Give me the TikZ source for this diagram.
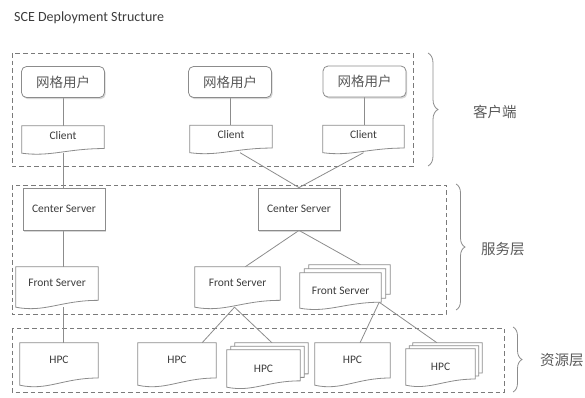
\documentclass[tikz,border=0pt]{standalone}
\usepackage{fontspec}
\setmainfont{Carlito}
\newfontfamily\cjk{Noto Sans CJK SC}
\usetikzlibrary{calc,shadows,decorations.pathreplacing}

\definecolor{edgegray}{HTML}{8C8C8C}
\definecolor{dashgray}{HTML}{7A7A7A}
\definecolor{inkgray}{HTML}{3C3C3C}
\definecolor{cjkgray}{HTML}{5A5A5A}

\pgfdeclarelayer{bg}
\pgfdeclarelayer{shapes}
\pgfsetlayers{bg,shapes,main}

\tikzset{
  wire/.style={draw=edgegray, line width=0.8pt},
  grp/.style={draw=dashgray, line width=1pt, dash pattern=on 4.5pt off 3pt},
  bracket/.style={draw=edgegray, line width=0.8pt, decorate,
    decoration={brace, amplitude=#1}},
  softshadow/.style={drop shadow={shadow xshift=1.2pt, shadow yshift=-1.6pt,
    fill=black!35, opacity=0.45}},
  userbox/.style={draw=edgegray, line width=0.8pt, fill=white, rounded corners=5pt,
    minimum width=83pt, minimum height=31pt, inner sep=0pt, softshadow,
    text=cjkgray, font=\cjk\fontsize{13.5}{14}\selectfont},
  serverbox/.style={draw=edgegray, line width=0.8pt, fill=white,
    minimum width=82pt, minimum height=42pt, inner sep=0pt, softshadow,
    text=inkgray, font=\fontsize{11.5}{12}\selectfont},
  docbox/.style={inner sep=0pt, text=inkgray, font=\fontsize{11.5}{12}\selectfont,
    text height=8pt, text depth=8.5pt},
  stackbox/.style={inner sep=0pt, text=inkgray, font=\fontsize{11.5}{12}\selectfont},
  docline/.style={draw=edgegray, line width=0.8pt, fill=white},
  layertag/.style={anchor=west, inner sep=0pt, text=cjkgray,
    font=\cjk\fontsize{14.5}{15}\selectfont},
}

% page outline with a wavy lower edge round a named node,
% moved right by #2 and up by #3 (in pt)
\newcommand\pageat[3]{%
  \begin{pgfonlayer}{shapes}
  \draw[docline] let \p1=(#1.north west), \p2=(#1.south east),
      \n1={\x2-\x1}, \n2={\y1-\y2} in
    ({\x1+#2},{\y1+#3}) -- ({\x2+#2},{\y1+#3}) -- ({\x2+#2},{\y2+0.17*\n2+#3})
    .. controls ({\x1+0.55*\n1+#2},{\y2+0.17*\n2+#3})
            and ({\x1+0.35*\n1+#2},{\y2-0.14*\n2+#3})
    .. ({\x1+#2},{\y2+#3}) -- cycle;
  \end{pgfonlayer}}
\newcommand\docoutline[1]{\pageat{#1}{0pt}{0pt}}

% three stacked pages: two behind, each offset by (#2,#3)
\newcommand\stackoutline[3]{%
  \pageat{#1}{2*#2}{2*#3}%
  \pageat{#1}{#2}{#3}%
  \pageat{#1}{0pt}{0pt}}

\begin{document}
\begin{tikzpicture}[x=1pt,y=-1pt]
\useasboundingbox (0,0) rectangle (585,397);

% title
\node[anchor=west, inner sep=0pt, text=inkgray, font=\fontsize{14}{15}\selectfont]
  (title) at (14,18) {SCE Deployment Structure};

% client tier
\node[userbox] (u1) at (63,82) {网格用户};
\node[userbox] (u2) at (230,82) {网格用户};
\node[userbox] (u3) at (364.5,81.5) {网格用户};
\node[docbox, minimum width=82pt, minimum height=27pt] (c1) at (63,139.5) {Client};
\node[docbox, minimum width=82pt, minimum height=27pt] (c2) at (231,139) {Client};
\node[docbox, minimum width=81pt, minimum height=27pt] (c3) at (363.5,139) {Client};
\docoutline{c1}\docoutline{c2}\docoutline{c3}

% service tier
\node[serverbox] (cs1) at (64,209) {Center Server};
\node[serverbox] (cs2) at (299,209) {Center Server};
\node[docbox, minimum width=82pt, minimum height=40pt] (fs1) at (57,287) {Front Server};
\node[docbox, minimum width=85pt, minimum height=40pt] (fs2) at (237.5,287) {Front Server};
\node[stackbox, minimum width=81pt, minimum height=35pt] (fs3) at (340.5,290.5) {Front Server};
\docoutline{fs1}\docoutline{fs2}
\stackoutline{fs3}{4.5pt}{4pt}

% resource tier
\node[docbox, minimum width=78pt, minimum height=42pt] (h1) at (59,364) {HPC};
\node[docbox, minimum width=78pt, minimum height=42pt] (h2) at (177,364) {HPC};
\node[stackbox, minimum width=73pt, minimum height=37pt] (h3) at (263.5,368.5) {HPC};
\node[docbox, minimum width=75pt, minimum height=42pt] (h4) at (352.5,364) {HPC};
\node[stackbox, minimum width=69pt, minimum height=36pt] (h5) at (440.5,367) {HPC};
\docoutline{h1}\docoutline{h2}\docoutline{h4}
\stackoutline{h3}{4pt}{3.5pt}
\stackoutline{h5}{3.5pt}{3pt}

\begin{pgfonlayer}{bg}
  % tier frames
  \draw[grp] (12,53) rectangle (413,166);
  \draw[grp] (12,185) rectangle (446,314);
  \draw[grp] (12,328) rectangle (504,392);

  % links
  \draw[wire] (u1.south) -- (c1.north);
  \draw[wire] (c1.south) -- (cs1.north -| c1.south);
  \draw[wire] (cs1.south -| c1.south) -- (fs1.north -| c1.south);
  \draw[wire] (fs1.south -| c1.south) -- (h1.north -| c1.south);
  \draw[wire] (u2.south) -- (u2.south |- c2.north);
  \draw[wire] (u3.south) -- (u3.south |- c3.north);
  \draw[wire] ($(c2.south west)!0.61!(c2.south east)$) -- (cs2.north);
  \draw[wire] (c3.south) -- (cs2.north);
  \draw[wire] (cs2.south) -- ($(fs2.north west)!0.59!(fs2.north east)$);
  \draw[wire] (cs2.south) -- ($(fs3.north)+(20,-8)$);
  \draw[wire] ($(fs2.south)+(-3,0)$) -- ($(h2.north west)!0.82!(h2.north east)$);
  \draw[wire] ($(fs2.south)+(-3,0)$) -- ($(h3.north)+(8.5,-7)$);
  \draw[wire] ($(fs3.south east)+(-2,-6)$) -- ($(h4.north west)!0.6!(h4.north east)$);
  \draw[wire] ($(fs3.south east)+(-2,-6)$) -- ($(h5.north)+(-3.5,-6)$);
\end{pgfonlayer}

% tier braces and names
\draw[bracket=10pt] (428,53) -- (428,166);
\draw[bracket=9pt] (456,184) -- (456,310);
\draw[bracket=9pt] (513,327) -- (513,392);
\node[layertag] (t1) at (473,112) {客户端};
\node[layertag] (t2) at (481,249) {服务层};
\node[layertag] (t3) at (540,360) {资源层};
\end{tikzpicture}
\end{document}
